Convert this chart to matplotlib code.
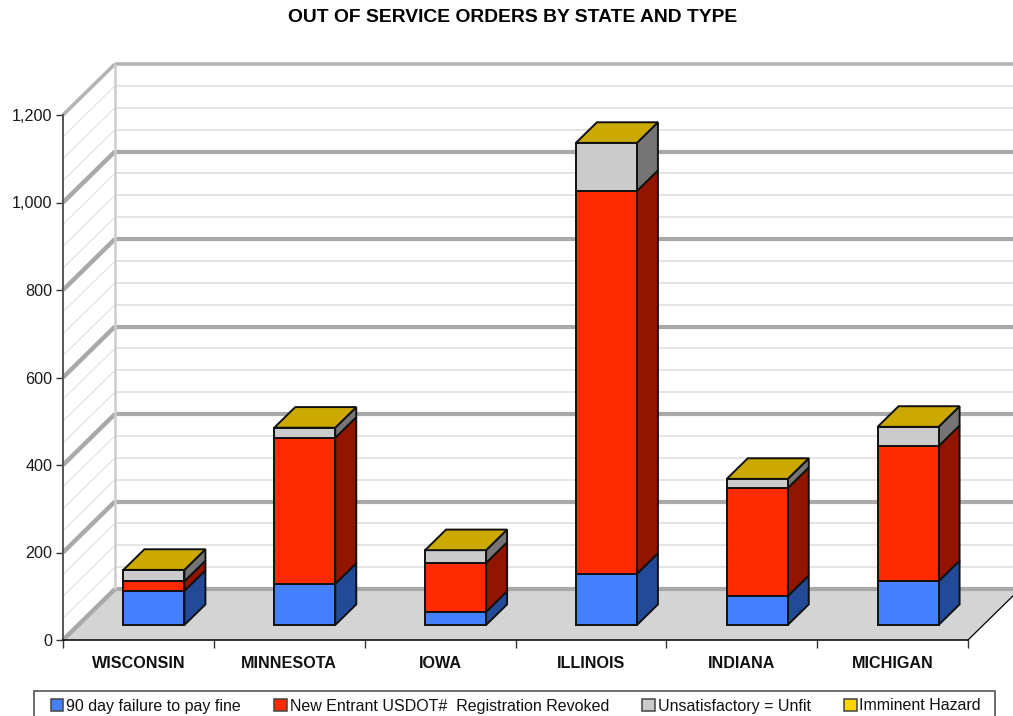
import matplotlib
matplotlib.use("Agg")
import matplotlib.pyplot as plt
from matplotlib.patches import Polygon, Rectangle

plt.rcParams["font.family"] = ["Liberation Sans", "DejaVu Sans"]

states = ["WISCONSIN", "MINNESOTA", "IOWA", "ILLINOIS", "INDIANA", "MICHIGAN"]
failure_to_pay = [78, 94, 30, 117, 66, 100]
registration_revoked = [22, 334, 112, 875, 247, 309]
unsatisfactory = [26, 23, 29, 110, 21, 44]
imminent_hazard = [0, 0, 0, 0, 0, 0]

series_names = ["90 day failure to pay fine", "New Entrant USDOT#  Registration Revoked",
                "Unsatisfactory = Unfit", "Imminent Hazard"]
front_colors = ["#4580ff", "#ff2a00", "#cbcbcb", "#ffd400"]
side_colors = ["#234a97", "#921500", "#757575", "#8c7500"]
top_color = "#cca900"

y_ticks = [0, 200, 400, 600, 800, 1000, 1200]
minor_step = 50

W, H = 1013, 716
left, right, bottom, top = 63, 968, 640, 115

fig = plt.figure(figsize=(W / 100, H / 100), dpi=100)
ax = fig.add_axes([left / W, (H - bottom) / H, (right - left) / W, (bottom - top) / H])
ax.set_xlim(0, len(states))
ax.set_ylim(0, 1200)
ax.patch.set_visible(False)

# pixels to data units, the fake 3d depth is given in pixels
px_x = len(states) / (right - left)
px_y = 1200 / (bottom - top)
wall_dx, wall_dy = 52 * px_x, 51 * px_y
bar_dx, bar_dy = 15.5 * px_x, 15 * px_y
depth_dx, depth_dy = 21 * px_x, 20.6 * px_y
bar_w = 61 * px_x
n = len(states)


def poly(points, color, edge="none", lw=0, z=1):
    ax.add_patch(Polygon(points, closed=True, facecolor=color, edgecolor=edge,
                         linewidth=lw, zorder=z, clip_on=False, joinstyle="miter"))


# floor
poly([(0, 0), (n, 0), (n + wall_dx, wall_dy), (wall_dx, wall_dy)], "#d4d4d4", z=1)

# walls: thin line every 50, thick line every 200
for v in range(0, 1201, minor_step):
    major = v in y_ticks
    col = "#a9a9a9" if major else "#dcdcdc"
    wall_lw = 3 if major else 1.1
    side_lw = 3.2 if major else 0.7
    if v == 1200:
        wall_lw, side_lw, col = 2.6, 2.6, "#b4b4b4"
    ax.plot([0, wall_dx], [v, v + wall_dy], color=col, lw=side_lw, clip_on=False,
            solid_capstyle="butt", zorder=2)
    ax.plot([wall_dx, n + wall_dx], [v + wall_dy, v + wall_dy], color=col, lw=wall_lw,
            clip_on=False, solid_capstyle="butt", zorder=2)
ax.plot([wall_dx, wall_dx], [wall_dy, 1200 + wall_dy], color="#cccccc", lw=1.8,
        clip_on=False, solid_capstyle="butt", zorder=2)
ax.plot([n, n + wall_dx], [0, wall_dy], color="black", lw=0.9, clip_on=False, zorder=3)

# stacked boxes
stack = [failure_to_pay, registration_revoked, unsatisfactory, imminent_hazard]
for i in range(n):
    x0 = i + (1 - bar_w) / 2 + bar_dx
    x1 = x0 + bar_w
    base = bar_dy
    for values, front, side in zip(stack, front_colors, side_colors):
        h = values[i]
        if h == 0:
            continue
        poly([(x1, base), (x1 + depth_dx, base + depth_dy),
              (x1 + depth_dx, base + h + depth_dy), (x1, base + h)],
             side, "#111111", 1.4, 5)
        poly([(x0, base), (x1, base), (x1, base + h), (x0, base + h)],
             front, "#111111", 1.4, 6)
        base += h
    poly([(x0, base), (x1, base), (x1 + depth_dx, base + depth_dy),
          (x0 + depth_dx, base + depth_dy)], top_color, "#111111", 1.4, 6)

# axes, ticks
for s in ["top", "right"]:
    ax.spines[s].set_visible(False)
ax.spines["left"].set_color("#555555")
ax.spines["left"].set_linewidth(1.4)
ax.spines["bottom"].set_color("black")
ax.spines["bottom"].set_linewidth(1.1)
ax.spines["left"].set_zorder(8)
ax.spines["bottom"].set_zorder(8)

ax.set_yticks(y_ticks)
ax.set_yticklabels(["{:,}".format(v) for v in y_ticks], fontsize=11.6, color="#1a1a1a")
ax.tick_params(axis="y", length=5, width=1, color="#333333", pad=2.5)
ax.set_xticks(range(n + 1))
ax.set_xticklabels([])
ax.tick_params(axis="x", which="major", length=6, width=1, color="#333333")
ax.set_xticks([i + 0.5 for i in range(n)], minor=True)
ax.set_xticklabels(states, minor=True, fontsize=11.6, fontweight="bold", color="#111111")
ax.tick_params(axis="x", which="minor", length=0, pad=11.5)

fig.text(513 / W, 1 - 18 / H, "OUT OF SERVICE ORDERS BY STATE AND TYPE", ha="center", va="center",
         fontsize=13.9, fontweight="bold", color="black")

# legend box runs off the bottom edge in the original
fig.add_artist(Rectangle((34 / W, -0.02), 961 / W, 0.02 + (H - 691) / H, transform=fig.transFigure,
                         facecolor="white", edgecolor="#444444", linewidth=1.1))
handles = [Rectangle((0, 0), 1, 1, facecolor=c, edgecolor="#444444", linewidth=1.1) for c in front_colors]
fig.legend(handles, series_names, loc="center left", bbox_to_anchor=(50.5 / W, 1 - 706 / H), ncol=4,
           frameon=False, fontsize=11.5, labelcolor="#111111", handlelength=0.8, handleheight=0.8,
           handletextpad=0.18, columnspacing=2.07, borderpad=0, borderaxespad=0)

fig.savefig("out.png", dpi=100)
